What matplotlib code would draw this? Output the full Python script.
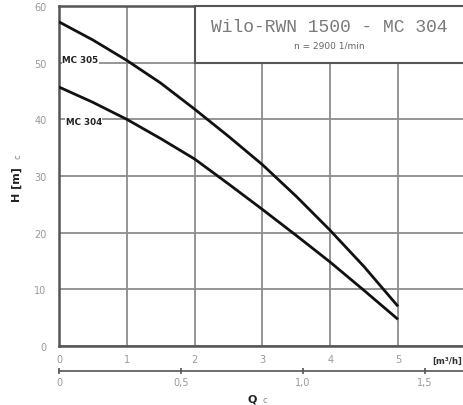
import matplotlib
matplotlib.use("Agg")
import matplotlib.pyplot as plt
from matplotlib.patches import Rectangle

# flow (m3/h) and head (m)
q_pts = [0, 0.5, 1, 1.5, 2, 2.5, 3, 3.5, 4, 4.5, 5]
h_mc305 = [57.2, 54.0, 50.4, 46.4, 41.8, 37.0, 32.0, 26.4, 20.4, 14.0, 7.0]
h_mc304 = [45.7, 43.0, 40.0, 36.6, 33.0, 28.6, 24.1, 19.5, 14.8, 9.8, 4.7]

x_ticks = [0, 1, 2, 3, 4, 5]
y_ticks = [0, 10, 20, 30, 40, 50, 60]
ls_ticks = [0, 0.5, 1.0, 1.5]
ls_labels = ["0", "0,5", "1,0", "1,5"]

title = "Wilo-RWN 1500 - MC 304"
subtitle = "n = 2900 1/min"

grid_col = "#8c8c8c"
frame_col = "#555555"
tick_col = "#999999"

fig = plt.figure(figsize=(4.64, 4.06), dpi=100)
ax = fig.add_axes([59 / 464, 59 / 406, 406.8 / 464, 340 / 406])
ax.set_xlim(0, 6)
ax.set_ylim(0, 60)

for x in x_ticks:
    ax.axvline(x, color=grid_col, lw=1.3, zorder=1)
for y in y_ticks:
    ax.axhline(y, color=grid_col, lw=1.3, zorder=1)

ax.plot(q_pts, h_mc305, color="#111111", lw=2.0, zorder=3, solid_capstyle="butt")
ax.plot(q_pts, h_mc304, color="#111111", lw=2.0, zorder=3, solid_capstyle="butt")

# curve names
ax.text(0.05, 50.6, "MC 305", fontsize=6.3, fontweight="bold", color="#222222",
        va="center", ha="left", zorder=4,
        bbox=dict(facecolor="white", edgecolor="none", pad=0.3))
ax.text(0.1, 39.6, "MC 304", fontsize=6.3, fontweight="bold", color="#222222",
        va="center", ha="left", zorder=4,
        bbox=dict(facecolor="white", edgecolor="none", pad=0.3))

# title box
ax.add_patch(Rectangle((2, 50), 4.5, 10, facecolor="white", edgecolor=frame_col,
                       lw=1.5, zorder=5, clip_on=False))
ax.text(3.98, 56.3, title, family="Liberation Mono", fontsize=13, color="#7a7a7a",
        ha="center", va="center", zorder=6)
ax.text(3.98, 53.2, subtitle, fontsize=6.5, color="#666666",
        ha="center", va="center", zorder=6)

for side in ["left", "bottom", "top"]:
    ax.spines[side].set_color(frame_col)
    ax.spines[side].set_linewidth(1.8)
ax.spines["right"].set_visible(False)

ax.set_xticks(x_ticks)
ax.set_yticks(y_ticks)
ax.tick_params(length=0, colors=tick_col, labelsize=7)
ax.tick_params(axis="x", pad=6)
ax.tick_params(axis="y", pad=9)

ax.text(5.5, -1.8, "[m³/h]", fontsize=6.2, fontweight="bold", color="#333333",
        ha="left", va="top", clip_on=False)

ax.text(-0.62, 28.6, "H [m]", rotation=90, fontsize=8, fontweight="bold",
        color="#222222", ha="center", va="center")
ax.text(-0.61, 33.6, "c", rotation=90, fontsize=6, color="#888888",
        ha="center", va="center")

# second flow scale in l/s
sec = ax.secondary_xaxis(-25 / 340, functions=(lambda q: q / 3.6, lambda v: v * 3.6))
sec.set_xticks(ls_ticks)
sec.set_xticklabels(ls_labels)
sec.spines["bottom"].set_color(frame_col)
sec.spines["bottom"].set_linewidth(1.2)
sec.tick_params(direction="inout", length=4, width=1.2, color=frame_col,
                labelcolor=tick_col, labelsize=7, pad=2)

fig.text(252 / 464, 6 / 406, "Q", fontsize=8, fontweight="bold", color="#222222",
         ha="center", va="center")
fig.text(265 / 464, 5 / 406, "c", fontsize=6, color="#888888",
         ha="center", va="center")

fig.savefig("out.png", dpi=100)
